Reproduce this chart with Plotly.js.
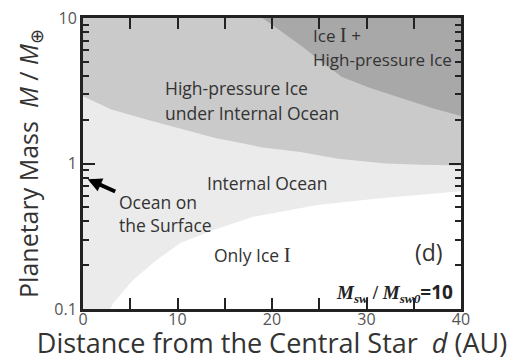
<!DOCTYPE html>
<html>
<head>
<meta charset="utf-8">
<script src="https://cdn.plot.ly/plotly-3.0.1.min.js"></script>
<style>html,body{margin:0;padding:0;background:#fff;}#chart{width:518px;height:361px;}</style>
</head>
<body>
<div id="chart"></div>
<script>
// Axis limits
const D_MAX = 40;
const M_MIN = 0.1;
const M_MAX = 10;

// Upper limit of "Only Ice I" region (white)
const onlyIceD = [2.9, 3.2, 5.3, 7.8, 10.3, 13.8, 18, 24.8, 31.7, 38.8, 40];
const onlyIceM = [0.1, 0.11, 0.158, 0.217, 0.284, 0.349, 0.43, 0.519, 0.579, 0.637, 0.645];

// Lower limit of "High-pressure Ice under Internal Ocean" region
const hpIceD = [0, 3, 7, 10, 14, 19, 23, 27, 32, 36, 40];
const hpIceM = [2.9, 2.35, 1.98, 1.76, 1.5, 1.29, 1.2, 1.08, 1.0, 0.98, 0.97];

// Lower limit of "Ice I + High-pressure Ice" region
const iceHpD = [19, 21.2, 23.3, 25.4, 27.4, 30.4, 33.9, 37, 40];
const iceHpM = [10, 7.9, 6.3, 4.9, 3.93, 3.3, 2.8, 2.4, 2.12];

// Tick labels
const xTickVals = [0, 10, 20, 30, 40];
const xTickText = ['0', '10', '20', '30', '40'];
const xMinorVals = [5, 15, 25, 35];
const yTickVals = [0.1, 1, 10];
const yTickText = ['0.1', '1', '10'];
const yMinorVals = [0.2, 0.3, 0.4, 0.5, 0.6, 0.7, 0.8, 0.9, 2, 3, 4, 5, 6, 7, 8, 9];

const COL_LIGHT = '#ebebeb';
const COL_MID = '#cacaca';
const COL_DARK = '#a8a8a8';

const traces = [
  {
    x: onlyIceD.concat([D_MAX]),
    y: onlyIceM.concat([M_MIN]),
    type: 'scatter', mode: 'lines', fill: 'toself',
    fillcolor: '#ffffff', line: {width: 0, color: '#ffffff'},
    hoverinfo: 'skip', showlegend: false
  },
  {
    x: hpIceD.concat([D_MAX, 0]),
    y: hpIceM.concat([M_MAX, M_MAX]),
    type: 'scatter', mode: 'lines', fill: 'toself',
    fillcolor: COL_MID, line: {width: 0, color: COL_MID},
    hoverinfo: 'skip', showlegend: false
  },
  {
    x: iceHpD.concat([D_MAX]),
    y: iceHpM.concat([M_MAX]),
    type: 'scatter', mode: 'lines', fill: 'toself',
    fillcolor: COL_DARK, line: {width: 0, color: COL_DARK},
    hoverinfo: 'skip', showlegend: false
  }
];

const FONT = '"Open Sans", Lato, sans-serif';
const SERIF = "'Liberation Serif'";
const txt = (t, x, y, size, anchor) => ({
  text: t, xref: 'paper', yref: 'paper', x: x, y: y,
  xanchor: anchor || 'left', yanchor: 'middle', showarrow: false,
  font: {family: FONT, size: size || 17.5, color: '#333'}
});
const romanI = '<span style="font-family:' + SERIF + ';font-size:21px">I</span>';

const annotations = [
  txt('Ice ' + romanI + ' +', 0.603, 0.942, 17),
  txt('High-pressure Ice', 0.603, 0.859, 17),
  txt('High-pressure Ice', 0.212, 0.759),
  txt('under Internal Ocean', 0.212, 0.674),
  txt('Internal Ocean', 0.323, 0.433),
  txt('Ocean on', 0.090, 0.368),
  txt('the Surface', 0.090, 0.289),
  txt('Only Ice ' + romanI, 0.341, 0.186),
  txt('(d)', 0.873, 0.196, 23, 'left'),
  {
    text: '<span style="font-family:' + SERIF + '"><b><i>M<sub>sw</sub></i>&nbsp;/&nbsp;<i>M<sub>sw0</sub></i></b></span><b>=10</b>',
    xref: 'paper', yref: 'paper', x: 0.985, y: 0.058, xanchor: 'right', yanchor: 'middle',
    showarrow: false, font: {family: FONT, size: 19, color: '#222'}
  },
  {
    text: '', xref: 'x', yref: 'y', x: 0.5, y: Math.log10(0.78),
    ax: 29, ay: 13, showarrow: true, arrowhead: 2, arrowsize: 0.7,
    arrowwidth: 4, arrowcolor: '#000', standoff: 0
  }
];

const layout = {
  width: 518, height: 361,
  margin: {l: 83, r: 57, t: 18, b: 52},
  paper_bgcolor: '#ffffff',
  plot_bgcolor: COL_LIGHT,
  font: {family: FONT, color: '#555', size: 16},
  showlegend: false,
  xaxis: {
    range: [0, D_MAX], tickmode: 'array', tickvals: xTickVals, ticktext: xTickText,
    ticks: 'inside', ticklen: 11, tickwidth: 2, tickcolor: '#222',
    minor: {tickmode: 'array', tickvals: xMinorVals, ticks: 'inside', ticklen: 11, tickwidth: 2, tickcolor: '#222', showgrid: false},
    showline: true, linewidth: 3, linecolor: '#222', mirror: 'ticks',
    showgrid: false, zeroline: false, ticklabelstandoff: -6,
    tickfont: {size: 16, color: '#555', family: FONT},
    title: {text: 'Distance from the Central Star&nbsp;&nbsp;<i>d</i> (AU)', font: {size: 27, color: '#333', family: FONT}, standoff: 2}
  },
  yaxis: {
    type: 'log', range: [-1, 1], tickmode: 'array', tickvals: yTickVals, ticktext: yTickText,
    ticks: 'inside', ticklen: 12, tickwidth: 2, tickcolor: '#222',
    minor: {tickmode: 'array', tickvals: yMinorVals, ticks: 'inside', ticklen: 6, tickwidth: 2, tickcolor: '#222', showgrid: false},
    showline: true, linewidth: 3, linecolor: '#222', mirror: 'ticks',
    showgrid: false, zeroline: false,
    tickfont: {size: 16, color: '#555', family: FONT},
    title: {text: 'Planetary Mass&nbsp;&nbsp;<i>M</i> / <i>M</i><sub>⊕</sub>', font: {size: 25, color: '#333', family: FONT}, standoff: 9}
  },
  annotations: annotations
};

Plotly.newPlot('chart', traces, layout, {displayModeBar: false, staticPlot: true});
</script>
</body>
</html>
